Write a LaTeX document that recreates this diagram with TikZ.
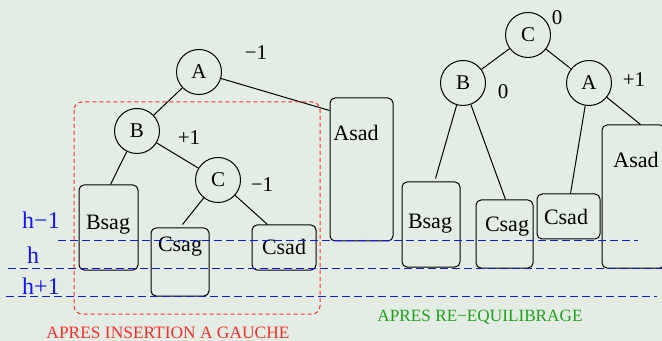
\documentclass[tikz,border=0pt]{standalone}
\usepackage{fontspec}
\setmainfont{Liberation Serif}
\usetikzlibrary{fit}
\definecolor{fond}{RGB}{228,237,228}
\definecolor{rougeg}{RGB}{250,45,45}
\definecolor{vertr}{RGB}{30,160,30}
\definecolor{bleun}{RGB}{20,20,245}
\tikzset{
  noeud/.style={circle, draw, line width=0.5pt, minimum size=22.5pt, inner sep=0pt, font=\fontsize{10.5}{12}\selectfont},
  sarbre/.style={draw, line width=0.5pt, rounded corners=2.5pt, inner sep=0pt},
  nom/.style={font=\fontsize{11}{13}\selectfont},
  bal/.style={font=\fontsize{10.5}{12}\selectfont},
  niveau/.style={draw=bleun, dash pattern=on 4pt off 2pt, line width=0.55pt},
  hauteur/.style={text=bleun, font=\fontsize{12}{14}\selectfont},
}
\begin{document}
\begin{tikzpicture}[x=0.5pt, y=-0.5pt, line width=0.5pt]
    % Fond
    \fill[fond] (0,0) rectangle (662,341);
    \useasboundingbox (0,0) rectangle (662,341);

    % Avant : arbre apres insertion a gauche
    \node[noeud] (A1) at (199,72) {A};
    \node[noeud] (B1) at (137,131) {B};
    \node[noeud] (C1) at (218,180) {C};
    \node[bal] (bA1) at (256,53) {−1};
    \node[bal] (bB1) at (189,138) {+1};
    \node[bal] (bC1) at (262,185) {−1};

    \node[sarbre, fit={(79,185) (138,270)}] (bsag1) {};
    \node[sarbre, fit={(151,228) (209,296)}] (csag1) {};
    \node[sarbre, fit={(252,225) (316,270)}] (csad1) {};
    \node[sarbre, fit={(330,98) (393,241)}] (asad1) {};
    \node[nom] (tbsag1) at (108,225) {Bsag};
    \node[nom] (tcsag1) at (180,247) {Csag};
    \node[nom] (tcsad1) at (284,247) {Csad};
    \node[nom] (tasad1) at (356,133) {Asad};

    \draw (A1) -- (B1);
    \draw (A1) -- ([yshift=-6.5pt]asad1.north west);
    \draw (B1) -- ([xshift=16pt]bsag1.north west);
    \draw (B1) -- (C1);
    \draw (C1) -- ([xshift=16pt,yshift=1.5pt]csag1.north west);
    \draw (C1) -- ([xshift=8pt]csad1.north west);

    % Cadre du sous-arbre desequilibre
    \draw[draw=rougeg, dash pattern=on 2pt off 1.5pt, rounded corners=4pt] (74,102) rectangle (320,314);
    \node[text=rougeg, font=\fontsize{8.7}{10}\selectfont] (tins) at (168,333) {APRES INSERTION A GAUCHE};

    % Apres : arbre re-equilibre
    \node[noeud] (C2) at (528,35) {C};
    \node[noeud] (B2) at (463,83) {B};
    \node[noeud] (A2) at (589,83) {A};
    \node[bal] (bC2) at (557,18) {0};
    \node[bal] (bB2) at (503,92) {0};
    \node[bal] (bA2) at (634,80) {+1};

    \node[sarbre, fit={(402,182) (460,267)}] (bsag2) {};
    \node[sarbre, fit={(476,200) (533,268)}] (csag2) {};
    \node[sarbre, fit={(537,194) (600,239)}] (csad2) {};
    \node[sarbre, fit={(602,125) (665,268)}] (asad2) {};
    \node[nom] (tbsag2) at (430,224) {Bsag};
    \node[nom] (tcsag2) at (507,227) {Csag};
    \node[nom] (tcsad2) at (566,217) {Csad};
    \node[nom] (tasad2) at (636,160) {Asad};

    \draw (C2) -- (B2);
    \draw (C2) -- (A2);
    \draw (B2) -- ([xshift=17pt,yshift=1.5pt]bsag2.north west);
    \draw (B2) -- ([xshift=15pt]csag2.north west);
    \draw (A2) -- ([xshift=17pt]csad2.north west);
    \draw (A2) -- ([xshift=19.5pt]asad2.north west);

    \node[text=vertr, font=\fontsize{8.6}{10}\selectfont] (treq) at (480,317) {APRES RE−EQUILIBRAGE};

    % Niveaux h-1, h, h+1
    \draw[niveau] (58,240.5) -- (638,240.5);
    \draw[niveau] (8,268.5) -- (662,268.5);
    \draw[niveau] (6,296.5) -- (657,296.5);
    \node[hauteur] (hm) at (41,220) {h−1};
    \node[hauteur] (h0) at (33,255) {h};
    \node[hauteur] (hp) at (41,286) {h+1};
\end{tikzpicture}
\end{document}
